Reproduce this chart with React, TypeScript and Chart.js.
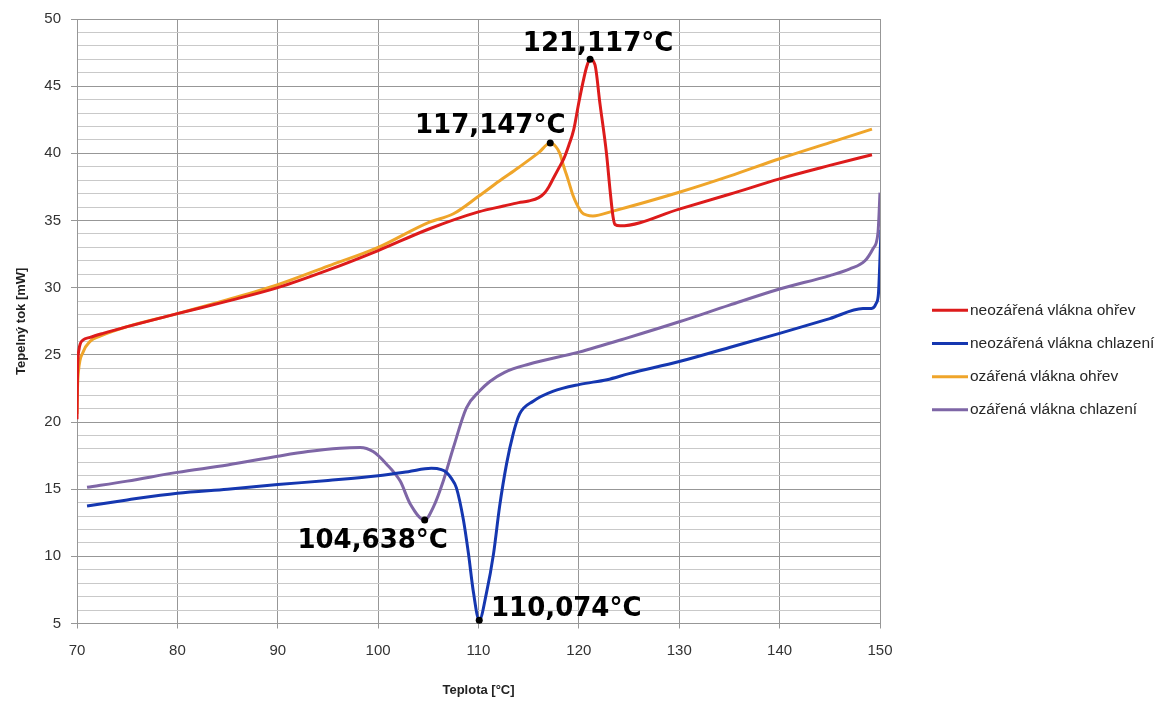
import React, { useEffect, useRef } from "react";
import { Chart, registerables } from "chart.js";

Chart.register(...registerables);

// ---------- data ----------
const seriesNames = [
  "neozářená vlákna ohřev",
  "neozářená vlákna chlazení",
  "ozářená vlákna ohřev",
  "ozářená vlákna chlazení",
];

const neoOhrevX = [70.0, 70.05, 70.2, 70.6, 71.3, 72.6, 75, 80, 85, 90, 95, 100, 105, 110, 112.5, 114, 115, 116, 116.6, 117, 117.5, 118, 118.5, 119, 119.5, 120, 120.5, 120.8, 121.117, 121.6, 122.1, 122.75, 123.1, 123.4, 123.6, 124.1, 130, 135, 140, 145, 149.2];
const neoOhrevY = [20.2, 23.5, 25.4, 26.1, 26.3, 26.6, 27.1, 28.07, 29.0, 30.0, 31.3, 32.76, 34.35, 35.64, 36.08, 36.33, 36.45, 36.7, 37.07, 37.5, 38.2, 38.9, 39.6, 40.6, 41.8, 43.8, 45.6, 46.5, 47.0, 46.6, 43.7, 40.0, 37.3, 35.3, 34.7, 34.6, 35.85, 36.95, 38.1, 39.1, 39.9];

const neoChlazeniX = [71, 75, 80, 85, 90, 95, 100, 103, 105.3, 106.3, 106.8, 107.3, 107.8, 108.5, 109.0, 109.5, 110.074, 110.8, 111.5, 112.1, 112.8, 113.45, 114.1, 115.45, 117.4, 120.1, 122.8, 125, 130, 135, 140, 145, 148.3, 149.15, 149.6, 149.85, 149.97, 150.1];
const neoChlazeniY = [13.75, 14.2, 14.7, 15.0, 15.34, 15.65, 16.0, 16.3, 16.55, 16.45, 16.25, 15.8, 15.1, 12.7, 10.2, 7.3, 5.25, 7.3, 10.2, 13.7, 16.9, 19.1, 20.6, 21.55, 22.28, 22.8, 23.15, 23.6, 24.5, 25.55, 26.6, 27.7, 28.44, 28.45, 28.8, 29.6, 31.6, 34.3];

const ozOhrevX = [70.0, 70.05, 70.15, 70.6, 71.3, 72.3, 75, 80, 85, 90, 95, 100, 105, 107.5, 110, 112, 114, 116, 117.147, 117.7, 118.1, 118.5, 118.9, 119.4, 119.8, 120.3, 120.8, 121.4, 123.4, 130, 135, 140, 145, 149.2];
const ozOhrevY = [20.6, 22.5, 23.8, 25.2, 26.0, 26.4, 27.1, 28.07, 29.1, 30.22, 31.6, 33.0, 34.85, 35.5, 36.8, 37.9, 38.95, 40.05, 40.76, 40.5, 40.0, 39.0, 38.1, 36.9, 36.2, 35.6, 35.4, 35.34, 35.7, 37.1, 38.3, 39.6, 40.8, 41.8];

const ozChlazeniX = [71, 75, 80, 85, 90, 93, 96.2, 98.2, 99.5, 100.8, 102.2, 103.2, 104.638, 105.5, 106.5, 107.5, 108.8, 110.1, 111.1, 112.6, 115, 120, 125, 130, 135, 140, 145, 147, 148.5, 149.3, 149.8, 150.0];
const ozChlazeniY = [15.14, 15.6, 16.25, 16.8, 17.45, 17.8, 18.05, 18.1, 17.8, 16.9, 15.6, 13.9, 12.7, 13.66, 15.63, 18.1, 21.05, 22.3, 23.0, 23.7, 24.3, 25.2, 26.3, 27.46, 28.7, 29.9, 30.9, 31.4, 32.0, 32.9, 34.1, 37.07];

const peakX = [121.117, 117.147, 104.638, 110.074];
const peakY = [47.0, 40.76, 12.7, 5.25];
const peakLabels = ["121,117°C", "117,147°C", "104,638°C", "110,074°C"];

const xTickMin = 70;
const xTickMax = 150;
const xTickStep = 10;
const yTickMin = 5;
const yTickMax = 50;
const yMajorStep = 5;

const xTitle = "Teplota [°C]";
const yTitle = "Tepelný tok [mW]";

// ---------- styles ----------
const colors = ["#DD1B1B", "#1537B0", "#EFA52A", "#7E66A6"];
const labelOffsets = [
  [8, -15],
  [-60, -17],
  [-52, 21],
  [87, -11],
];

const zip = (xs: number[], ys: number[]) => xs.map((x, i) => ({ x, y: ys[i] }));

const peakPlugin = {
  id: "peaks",
  afterDatasetsDraw(chart: any) {
    const { ctx, scales } = chart;
    ctx.save();
    peakX.forEach((v, i) => {
      const px = scales.x.getPixelForValue(v);
      const py = scales.y.getPixelForValue(peakY[i]);
      ctx.fillStyle = "#000";
      ctx.beginPath();
      ctx.arc(px, py, 3.5, 0, Math.PI * 2);
      ctx.fill();
      ctx.font = "bold 26px 'DejaVu Sans'";
      ctx.textAlign = "center";
      ctx.textBaseline = "middle";
      ctx.fillText(peakLabels[i], px + labelOffsets[i][0], py + labelOffsets[i][1]);
    });
    ctx.restore();
  },
};

const legendPlugin = {
  id: "customLegend",
  afterDraw(chart: any) {
    const { ctx, chartArea } = chart;
    const cy = (chartArea.top + chartArea.bottom) / 2;
    ctx.save();
    chart.data.datasets.forEach((ds: any, i: number) => {
      const y = cy - 11 + i * 33.2;
      ctx.strokeStyle = ds.borderColor;
      ctx.lineWidth = 3;
      ctx.beginPath();
      ctx.moveTo(chartArea.right + 52, y);
      ctx.lineTo(chartArea.right + 88, y);
      ctx.stroke();
      ctx.fillStyle = "#262626";
      ctx.font = "15.5px 'Liberation Sans'";
      ctx.textAlign = "left";
      ctx.textBaseline = "middle";
      ctx.fillText(ds.label, chartArea.right + 90, y);
    });
    ctx.restore();
  },
};

export default function App() {
  const ref = useRef<HTMLCanvasElement | null>(null);

  useEffect(() => {
    if (!ref.current) return;
    const data = [
      zip(neoOhrevX, neoOhrevY),
      zip(neoChlazeniX, neoChlazeniY),
      zip(ozOhrevX, ozOhrevY),
      zip(ozChlazeniX, ozChlazeniY),
    ];
    const chart = new Chart(ref.current, {
      type: "scatter",
      data: {
        datasets: data.map((d, i) => ({
          label: seriesNames[i],
          data: d,
          showLine: true,
          borderColor: colors[i],
          backgroundColor: colors[i],
          borderWidth: 3,
          pointRadius: 0,
          cubicInterpolationMode: "monotone" as const,
        })),
      },
      options: {
        responsive: false,
        animation: false,
        layout: { padding: { left: 0, top: 15, right: 295, bottom: 0 } },
        plugins: {
          legend: { display: false },
          tooltip: { enabled: false },
        },
        scales: {
          x: {
            type: "linear",
            min: xTickMin,
            max: xTickMax,
            afterFit: (s: any) => {
              s.height = 77.5;
            },
            ticks: {
              stepSize: xTickStep,
              color: "#333",
              font: { family: "'Liberation Sans'", size: 15 },
              padding: 13,
              maxRotation: 0,
            },
            grid: { color: "#979797", tickLength: 5, tickColor: "#979797" },
            border: { color: "#979797" },
            title: {
              display: true,
              text: xTitle,
              color: "#222",
              font: { family: "'Liberation Sans'", size: 13, weight: "bold" },
              padding: { top: 0, bottom: 3 },
            },
          },
          y: {
            type: "linear",
            min: yTickMin,
            max: yTickMax,
            afterFit: (s: any) => {
              s.width = 77;
            },
            ticks: {
              stepSize: 1,
              autoSkip: false,
              color: "#333",
              font: { family: "'Liberation Sans'", size: 15 },
              padding: 10,
              callback: (v: any) => (Number(v) % yMajorStep === 0 ? String(v) : ""),
            },
            grid: {
              color: (c: any) => (c.tick && c.tick.value % yMajorStep === 0 ? "#979797" : "#c9c9c9"),
              tickColor: (c: any) => (c.tick && c.tick.value % yMajorStep === 0 ? "#979797" : "rgba(0,0,0,0)"),
              tickLength: 6,
            },
            border: { color: "#979797" },
            title: {
              display: true,
              text: yTitle,
              color: "#222",
              font: { family: "'Liberation Sans'", size: 13, weight: "bold" },
              padding: { top: 14, bottom: 0 },
            },
          },
        },
      },
      plugins: [peakPlugin, legendPlugin],
    });
    return () => chart.destroy();
  }, []);

  return (
    <div style={{ position: "absolute", left: 0, top: 0, width: 1175, height: 701, background: "#fff" }}>
      <canvas ref={ref} width={1175} height={701} />
    </div>
  );
}
